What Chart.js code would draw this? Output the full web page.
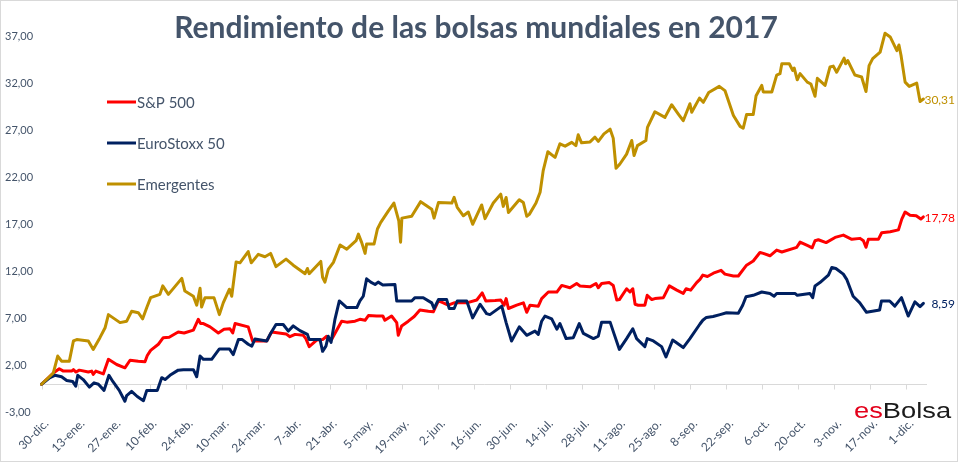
<!DOCTYPE html>
<html>
<head>
<meta charset="utf-8">
<script src="https://cdn.jsdelivr.net/npm/chart.js@4.4.1/dist/chart.umd.min.js"></script>
<style>
  html, body { margin: 0; padding: 0; background: #fff; }
  #wrap { width: 958px; height: 462px; position: relative; }
</style>
</head>
<body>
<div id="wrap"><canvas id="bolsasChart" width="958" height="462"></canvas></div>
<script>
// eje X: días naturales desde el 30-dic-2016, una etiqueta cada 14 días
const tickLabels = [
  "30-dic.", "13-ene.", "27-ene.", "10-feb.", "24-feb.", "10-mar.", "24-mar.",
  "7-abr.", "21-abr.", "5-may.", "19-may.", "2-jun.", "16-jun.", "30-jun.",
  "14-jul.", "28-jul.", "11-ago.", "25-ago.", "8-sep.", "22-sep.", "6-oct.",
  "20-oct.", "3-nov.", "17-nov.", "1-dic.",
];

const seriesNames = ["S&P 500", "EuroStoxx 50", "Emergentes"];
const seriesColors = ["#ff0000", "#002060", "#bf9000"];

// S&P 500 (% rendimiento acumulado)
const spDays = [
  0, 4.6, 6.9, 8.5, 11.7, 12.4, 13.4, 14.7, 18.2, 19.5, 20.1, 21.1, 24.0, 26.0,
  29.2, 32.4, 34.4, 37.6, 40.2, 41.1, 42.4, 45.4, 47.3, 49.6, 53.1, 55.4, 59.0,
  60.9, 61.8, 62.9, 65.5, 68.7, 70.9, 73.2, 74.3, 75.2, 80.3, 82.0, 87.5, 89.4,
  95.0, 96.5, 98.5, 101.7, 102.7, 104.0, 106.9, 109.2, 110.8, 111.7, 112.7,
  116.6, 118.6, 121.8, 123.7, 125.7, 127.0, 130.2, 132.6, 133.4, 136.0, 138.0,
  138.6, 139.9, 142.5, 144.8, 147.0, 150.3, 152.2, 154.2, 156.1, 158.0, 160.3,
  165.2, 169.1, 171.2, 172.6, 176.2, 178.4, 179.7, 180.5, 181.4, 184.6, 187.2,
  188.5, 189.8, 193.0, 194.3, 196.9, 200.2, 202.1, 205.3, 207.9, 209.2, 213.1,
  215.4, 216.3, 217.6, 220.6, 222.1, 223.5, 224.5, 227.3, 228.6, 229.7, 230.6,
  231.8, 234.4, 235.3, 237.1, 238.3, 241.6, 243.9, 246.8, 249.3, 250.4, 252.2,
  254.5, 255.8, 256.9, 258.7, 261.0, 264.0, 265.5, 268.8, 270.7, 273.9, 276.5,
  279.1, 280.4, 283.0, 285.6, 287.6, 293.4, 294.7, 297.9, 299.4, 300.5, 301.8,
  304.8, 308.3, 311.5, 314.8, 318.0, 319.3, 320.3, 321.2, 325.1, 326.4, 329.7,
  332.9, 334.2, 335.5, 337.4, 339.8, 341.6, 342.6,
];
const spVals = [
  0, 1.2, 1.65, 1.4, 1.4, 1.55, 1.3, 1.5, 1.3, 1.4, 1.05, 1.4, 1.1, 2.65,
  2.1, 1.75, 2.55, 2.45, 2.4, 3.05, 3.6, 4.25, 4.95, 5.0, 5.55, 5.45, 5.75,
  6.9, 6.45, 6.45, 6.1, 5.45, 5.85, 5.9, 5.45, 6.45, 6.1, 4.6, 4.6, 5.55,
  5.35, 5.05, 5.3, 5.2, 4.85, 4.0, 4.7, 4.75, 5.1, 4.7, 4.75,
  6.7, 6.6, 6.7, 6.9, 6.8, 7.3, 7.25, 7.25, 6.8, 7.25, 6.55,
  5.2, 6.2, 6.7, 7.2, 7.9, 7.75, 7.7, 8.85, 8.65, 8.4, 8.65,
  8.65, 8.95, 9.7, 8.85, 8.9, 8.95, 8.4, 9.1, 8.05, 8.4, 8.65,
  7.65, 8.4, 8.3, 9.1, 9.8, 9.8, 10.5, 10.25, 10.7, 10.45, 10.35,
  10.7, 10.25, 10.7, 10.8, 10.5, 8.95, 9.0, 10.15, 9.8, 10.15, 8.5,
  8.4, 8.4, 9.45, 9.0, 9.1, 9.2, 10.45, 10.0, 9.65, 10.15, 10.0,
  10.8, 11.15, 11.6, 11.45, 11.8, 12.1, 11.7, 11.5, 11.5, 12.65, 13.1,
  14.0, 13.9, 13.65, 14.25, 14.05, 14.55, 15.1, 14.7, 14.5, 15.25, 15.35,
  15.05, 15.6, 15.85, 15.4, 15.5, 15.25, 14.55, 15.4, 15.4, 16.1, 16.2,
  16.4, 17.55, 18.3, 17.95, 17.9, 17.55, 17.78,
];

// EuroStoxx 50
const euDays = [
  0, 3.3, 5.2, 7.8, 9.8, 12.1, 13.3, 14.1, 16.2, 18.6, 20.4, 22.1, 24.3, 26.2,
  27.7, 30.2, 32.4, 33.1, 35.0, 37.2, 39.6, 40.9, 45.0, 46.7, 48.0, 49.9, 53.1,
  55.1, 59.0, 60.3, 61.6, 62.9, 66.1, 69.1, 73.0, 74.5, 76.5, 78.0, 80.3, 81.7,
  82.9, 87.5, 89.0, 91.1, 93.9, 95.9, 97.8, 100.4, 103.3, 104.0, 108.2, 109.2,
  110.5, 111.4, 112.5, 114.0, 115.7, 118.6, 122.5, 123.7, 125.0, 126.3, 127.9,
  129.6, 130.8, 132.6, 137.3, 138.0, 143.8, 145.1, 148.3, 151.6, 152.5, 154.2,
  157.4, 158.4, 160.3, 161.5, 165.2, 167.5, 170.4, 172.9, 174.2, 178.8, 180.5,
  182.6, 185.6, 188.5, 191.7, 193.0, 194.3, 195.6, 198.2, 200.2, 201.4, 203.8,
  206.6, 208.9, 210.5, 214.4, 216.3, 217.6, 220.9, 222.5, 224.5, 227.3, 229.7,
  231.2, 234.4, 235.3, 237.7, 240.9, 242.6, 245.2, 249.3, 251.9, 255.8, 256.9,
  258.3, 260.9, 263.6, 266.1, 270.7, 272.4, 273.7, 276.5, 279.8, 283.0, 284.6,
  285.6, 292.7, 293.6, 298.5, 299.6, 300.5, 302.4, 305.7, 307.0, 308.6, 311.5,
  312.8, 315.3, 317.9, 320.5, 325.6, 326.3, 329.5, 331.5, 334.1, 336.7, 339.3,
  341.3, 342.6,
];
const euVals = [
  0, 0.7, 0.95, 0.8, 0.4, 0.3, -0.2, 0.95, 0.5, -0.3, 0.15, 0.0, -0.65, 0.95,
  0.3, -0.65, -1.8, -1.2, -0.75, -1.3, -1.75, -0.65, -0.65, 0.7, 0.5, 0.95, 1.5,
  1.55, 1.55, 0.8, 3.0, 2.65, 2.65, 3.75, 3.75, 3.15, 4.75, 4.75, 4.25, 4.05,
  4.8, 4.6, 5.4, 6.35, 6.35, 5.65, 6.2, 5.7, 5.3, 4.75, 4.75, 3.5,
  4.05, 5.1, 4.45, 6.9, 8.85, 8.15, 8.15, 8.85, 9.35, 11.2, 10.85,
  10.6, 10.85, 10.55, 10.6, 8.85, 8.85, 9.2, 9.2, 8.65, 8.05, 9.0,
  9.0, 8.05, 8.05, 8.85, 8.85, 7.05, 8.5, 7.5, 7.4, 8.3, 6.55,
  4.6, 6.1, 5.2, 5.65, 5.3, 6.7, 7.25, 6.95, 5.85, 6.45, 4.85,
  4.95, 6.45, 5.4, 4.85, 5.1, 6.6, 6.6, 5.3, 3.7, 4.85, 5.9,
  4.85, 4.0, 4.85, 4.6, 4.0, 2.9, 4.7, 3.9, 4.85, 6.4, 6.8,
  7.1, 7.2, 7.4, 7.6, 7.55, 8.4, 9.3, 9.45, 9.8, 9.65, 9.35,
  9.65, 9.65, 9.45, 9.65, 9.2, 10.45, 10.8, 11.6, 12.4, 12.3, 11.7,
  11.15, 9.35, 8.65, 7.65, 7.9, 8.85, 8.85, 8.3, 9.2, 7.25, 8.75,
  8.25, 8.59,
];

// Emergentes
const emDays = [
  0, 4.6, 6.3, 7.8, 10.8, 12.4, 13.7, 18.2, 20.1, 22.7, 24.7, 26.0, 30.5, 33.1,
  35.0, 37.6, 39.3, 40.9, 42.4, 46.0, 47.1, 49.3, 54.5, 55.7, 59.0, 60.3, 61.6,
  62.2, 63.5, 67.0, 69.1, 70.6, 73.0, 73.9, 75.6, 77.1, 80.3, 81.5, 84.2, 86.8,
  89.0, 91.1, 95.0, 97.8, 102.4, 103.3, 104.0, 108.5, 109.2, 110.1, 111.4,
  113.4, 116.0, 118.6, 122.2, 123.1, 124.4, 125.7, 126.3, 129.2, 130.5, 131.8,
  134.7, 136.9, 138.8, 139.5, 140.0, 143.8, 147.3, 151.6, 152.5, 154.2, 159.4,
  160.3, 161.5, 163.9, 165.8, 167.5, 171.0, 172.3, 175.5, 178.4, 179.4, 180.5,
  181.4, 185.6, 187.2, 188.5, 189.5, 192.1, 193.7, 194.9, 196.7, 199.5, 201.4,
  203.4, 206.0, 207.6, 208.5, 209.8, 213.1, 215.0, 216.3, 218.5, 220.9, 222.1,
  223.2, 224.7, 227.3, 229.3, 230.2, 231.5, 234.8, 235.4, 238.3, 242.2, 244.8,
  247.4, 249.3, 251.9, 252.6, 255.6, 257.1, 259.2, 263.3, 265.5, 268.8, 271.4,
  272.6, 273.9, 276.5, 277.6, 279.8, 280.4, 283.7, 285.6, 286.9, 287.6, 290.5,
  291.8, 292.4, 293.6, 294.7, 297.5, 298.9, 300.5, 301.4, 304.4, 306.3, 307.6,
  308.9, 311.8, 312.4, 313.2, 316.0, 318.6, 320.3, 321.5, 322.9, 325.8, 327.7,
  329.7, 332.3, 333.1, 333.9, 335.5, 337.1, 340.0, 341.3, 342.6,
];
const emVals = [
  0, 1.2, 3.0, 2.45, 2.45, 4.6, 4.75, 4.6, 3.7, 4.95, 6.0, 7.4, 6.55, 6.7,
  7.75, 7.6, 6.95, 8.15, 9.2, 9.55, 10.45, 9.55, 11.25, 9.9, 9.35, 8.4, 10.2,
  8.2, 9.2, 9.2, 7.4, 8.65, 10.1, 9.35, 13.0, 12.9, 14.1, 12.9, 13.8, 13.55,
  13.9, 12.5, 13.3, 12.65, 11.75, 12.3, 11.75, 13.05, 11.35, 10.85, 12.2,
  12.95, 14.8, 14.35, 15.25, 15.95, 15.05, 13.9, 14.9, 14.9, 16.5, 17.2,
  18.4, 19.25, 17.35, 15.1, 17.65, 17.85, 19.4, 18.6, 17.65, 19.3, 19.25,
  19.85, 18.8, 17.9, 18.3, 17.0, 19.05, 17.6, 19.25, 20.2, 18.9, 19.85,
  18.25, 19.6, 19.3, 17.85, 18.05, 19.25, 20.4, 22.7, 24.7, 24.1, 25.55,
  25.3, 25.7, 25.35, 26.5, 25.65, 25.75, 26.25, 25.8, 26.6, 27.1, 26.15,
  22.95, 23.4, 24.45, 25.9, 24.3, 25.35, 25.9, 27.3, 28.95, 28.35, 29.7,
  28.7, 28.0, 29.8, 28.9, 30.4, 29.95, 31.0, 31.65, 31.2, 28.55, 27.4,
  27.2, 28.65, 28.65, 30.65, 31.75, 31.05, 31.05, 32.85, 33.0, 34.05, 34.05,
  33.35, 33.6, 32.35, 33.0, 32.1, 31.9, 30.6, 32.5, 31.75, 33.7, 33.8,
  33.15, 34.65, 34.05, 34.4, 32.85, 32.65, 31.1, 33.85, 34.6, 35.3, 37.3,
  36.9, 35.45, 36.05, 34.95, 32.1, 31.65, 32.0, 30.05, 30.31,
];

const titleText = "Rendimiento de las bolsas mundiales en 2017";
const slate = "#44546a";

const toPoints = (days, vals) => days.map((d, i) => ({ x: d, y: vals[i] }));
const fmt = (v) => v.toFixed(2).replace(".", ",");

const makeSet = (i, days, vals, order) => ({
  label: seriesNames[i],
  data: toPoints(days, vals),
  borderColor: seriesColors[i],
  backgroundColor: seriesColors[i],
  borderWidth: 3,
  pointRadius: 0,
  tension: 0,
  borderJoinStyle: "round",
  borderCapStyle: "round",
  clip: false,
  order: order,
});

// dibujo de título, leyenda, eje en 0, etiquetas finales y logo
const decor = {
  id: "decor",
  beforeDraw(chart) {
    const c = chart.ctx;
    c.save();
    c.fillStyle = "#fff";
    c.fillRect(0, 0, chart.width, chart.height);
    c.strokeStyle = "#d9d9d9";
    c.lineWidth = 1;
    c.strokeRect(0.5, 0.5, chart.width - 1, chart.height - 1);
    c.restore();
  },
  beforeDatasetsDraw(chart) {
    const c = chart.ctx;
    const xs = chart.scales.x;
    const y0 = Math.round(chart.scales.y.getPixelForValue(0)) + 0.5;
    c.save();
    c.strokeStyle = "#d9d9d9";
    c.lineWidth = 1;
    c.beginPath();
    c.moveTo(chart.chartArea.left, y0);
    c.lineTo(chart.chartArea.right, y0);
    xs.ticks.forEach((t) => {
      const px = Math.round(xs.getPixelForValue(t.value)) + 0.5;
      c.moveTo(px, y0);
      c.lineTo(px, y0 + 5);
    });
    c.stroke();
    c.restore();
  },
  afterDraw(chart) {
    const c = chart.ctx;
    c.save();

    // título
    c.fillStyle = slate;
    c.font = "bold 30px Lato";
    c.textAlign = "center";
    c.textBaseline = "middle";
    c.fillText(titleText, 476, 28);

    // leyenda
    c.font = "15px Lato";
    c.textAlign = "left";
    const legendY = [102, 143, 184];
    seriesNames.forEach((name, i) => {
      c.strokeStyle = seriesColors[i];
      c.lineWidth = 3;
      c.beginPath();
      c.moveTo(107, legendY[i]);
      c.lineTo(136, legendY[i]);
      c.stroke();
      c.fillStyle = slate;
      c.fillText(name, 137, legendY[i] + 1);
    });

    // valores finales
    c.font = "12px Lato";
    c.textAlign = "right";
    chart.data.datasets.forEach((ds, i) => {
      const meta = chart.getDatasetMeta(i);
      const last = meta.data[meta.data.length - 1];
      const val = ds.data[ds.data.length - 1].y;
      c.fillStyle = ds.borderColor;
      c.fillText(fmt(val), 955, last.y + 1);
    });

    // logo
    c.translate(854, 418);
    c.scale(1.24, 1);
    c.textAlign = "left";
    c.textBaseline = "alphabetic";
    c.font = "22px 'Liberation Sans'";
    c.fillStyle = "#e3001b";
    c.fillText("es", 0, 0);
    const w = c.measureText("es").width;
    c.fillStyle = "#1a1a1a";
    c.fillText("Bolsa", w, 0);

    c.restore();
  },
};

const chart = new Chart(document.getElementById("bolsasChart"), {
  type: "line",
  data: {
    datasets: [
      makeSet(0, spDays, spVals, 3),
      makeSet(1, euDays, euVals, 2),
      makeSet(2, emDays, emVals, 1),
    ],
  },
  plugins: [decor],
  options: {
    responsive: false,
    animation: false,
    devicePixelRatio: 1,
    layout: { padding: { left: 5, right: 31, top: 36, bottom: 0 } },
    plugins: {
      legend: { display: false },
      title: { display: false },
      tooltip: { enabled: false },
    },
    scales: {
      x: {
        type: "linear",
        min: 0,
        max: 344,
        afterFit: (s) => { s.height = 49.5; },
        grid: { display: false, drawTicks: false },
        border: { display: false },
        ticks: {
          stepSize: 14,
          includeBounds: false,
          autoSkip: false,
          minRotation: 45,
          maxRotation: 45,
          padding: 4,
          labelOffset: 5,
          color: slate,
          font: { family: "Lato", size: 12 },
          callback: (v) => tickLabels[v / 14] ?? "",
        },
      },
      y: {
        min: -3,
        max: 37,
        afterFit: (s) => { s.width = 36.5; },
        grid: { display: false, drawTicks: false },
        border: { display: false },
        ticks: {
          stepSize: 5,
          crossAlign: "far",
          padding: 0,
          color: slate,
          font: { family: "Lato", size: 11 },
          callback: (v) => fmt(v),
        },
      },
    },
  },
});
</script>
</body>
</html>
